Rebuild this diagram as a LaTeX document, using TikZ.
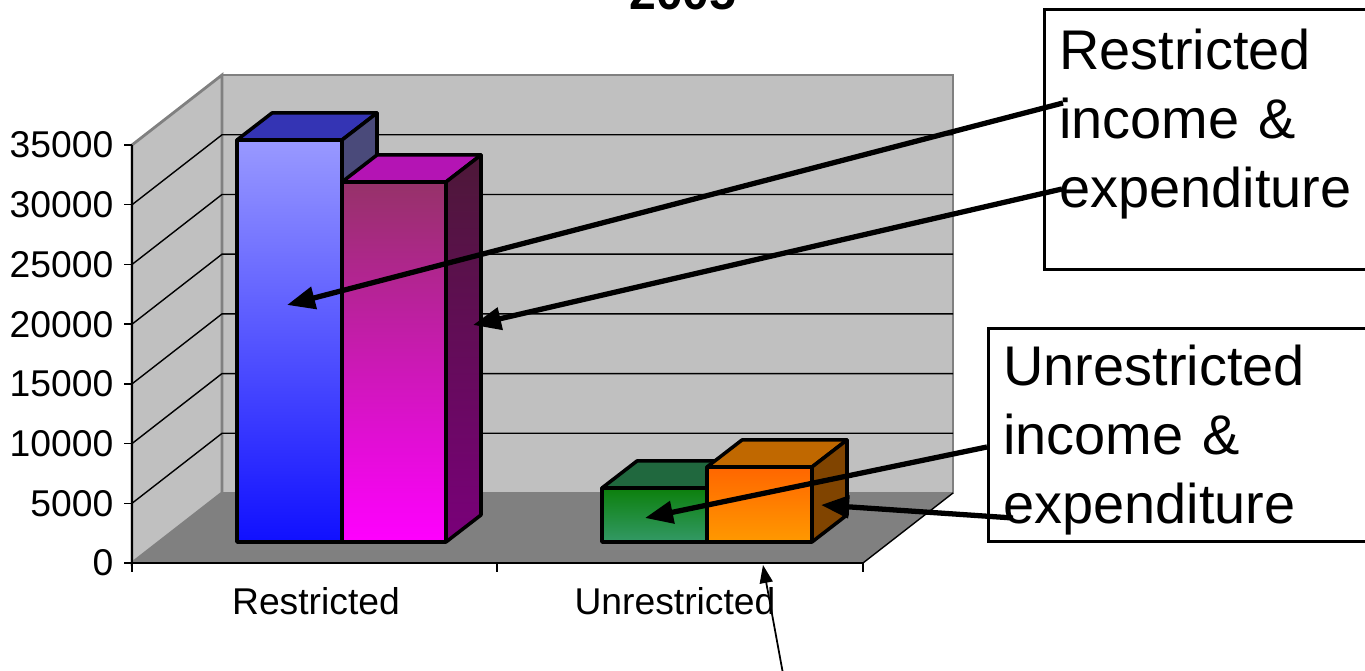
\documentclass[tikz,border=0pt]{standalone}
\usepackage{fontspec}
\setmainfont{Liberation Sans}
\usepackage{xcolor}
\usepackage{tikz}
\usetikzlibrary{arrows.meta,positioning}
\definecolor{wallgrey}{RGB}{192,192,192}
\definecolor{floorgrey}{RGB}{128,128,128}
\definecolor{bluehi}{RGB}{153,153,255}
\definecolor{bluelo}{RGB}{16,16,255}
\definecolor{bluetop}{RGB}{52,52,180}
\definecolor{blueside}{RGB}{74,74,122}
\definecolor{magentahi}{RGB}{150,50,105}
\definecolor{magentalo}{RGB}{255,0,255}
\definecolor{magentatop}{RGB}{180,20,180}
\definecolor{magentasideup}{RGB}{77,24,56}
\definecolor{magentasidelo}{RGB}{122,0,122}
\definecolor{greenhi}{RGB}{12,128,12}
\definecolor{greenlo}{RGB}{51,153,102}
\definecolor{greentop}{RGB}{32,104,62}
\definecolor{orangehi}{RGB}{255,102,0}
\definecolor{orangelo}{RGB}{255,153,0}
\definecolor{orangetop}{RGB}{192,104,0}
\definecolor{orangeside}{RGB}{128,68,0}

% one bar: left x, right x, top y, front style, top colour, side style
\newcommand{\chartbar}[6]{%
  \draw[barline, #4] (#1,#3) rectangle (#2,542);
  \filldraw[barline, fill=#5] (#1,#3) -- (#1+35,#3-27) -- (#2+35,#3-27) -- (#2,#3) -- cycle;
  \draw[barline, #6] (#2,#3) -- (#2+35,#3-27) -- (#2+35,515) -- (#2,542) -- cycle;
}

\begin{document}
\begin{tikzpicture}[x=0.01cm, y=-0.01cm,
    every node/.style={font=\fontsize{10.6}{12}\selectfont},
    wall/.style={fill=wallgrey, draw=floorgrey, line width=0.8pt},
    gridline/.style={black, line width=0.4pt},
    barline/.style={black, line width=1pt, line join=round},
    axislabel/.style={font=\fontsize{10.6}{12}\selectfont},
    labelbox/.style={rectangle, draw=black, line width=0.8pt, fill=white, align=left,
      inner xsep=0.15cm, text height=0.41cm,
      font=\fontsize{15.9}{19.6}\selectfont},
    callout/.style={-{Triangle[length=0.28cm, width=0.22cm]}, line width=1.5pt},
    note/.style={-{Triangle[length=0.18cm, width=0.13cm]}, line width=0.5pt}]
    \useasboundingbox (0,0) rectangle (1365,671);

    % title, cut off at the top
    \node[anchor=base, font=\fontsize{13.7}{16}\selectfont\bfseries] (title) at (683,10) {2005};

    % walls and floor
    \filldraw[wall] (222,75) rectangle (953,493);
    \filldraw[wall] (132,145) -- (222,75) -- (222,493) -- (132,563) -- cycle;
    \fill[floorgrey] (132,563) -- (222,493) -- (953,493) -- (863,563) -- cycle;
    \draw[gridline] (863,563) -- (953,493);
    \foreach \k in {1,...,6}
        \draw[gridline] (132,563-59.7*\k) -- (222,493-59.7*\k) -- (953,493-59.7*\k);

    % axes
    \draw[gridline] (132,145) -- (132,563) -- (863,563);
    \foreach \val [count=\k from 0] in {0,5000,10000,15000,20000,25000,30000,35000} {
        \draw[gridline] (124,563-59.7*\k) -- (132,563-59.7*\k);
        \node[axislabel, anchor=east, inner xsep=0pt] (ytick\k) at (114,563-59.7*\k) {\val};
    }
    \foreach \x in {132,497,863}
        \draw[gridline] (\x,563) -- (\x,572);
    \node[axislabel, anchor=base] (restrlabel) at (316,615) {Restricted};
    \node[axislabel, anchor=base] (unrestrlabel) at (675,615) {Unrestricted};

    % bars
    \chartbar{237}{342}{140}{top color=bluehi, bottom color=bluelo}{bluetop}{fill=blueside}
    \chartbar{342}{446}{182}{top color=magentahi, bottom color=magentalo}{magentatop}{top color=magentasideup, bottom color=magentasidelo}
    \chartbar{602}{707}{488}{top color=greenhi, bottom color=greenlo}{greentop}{fill=greentop}
    \chartbar{707}{812}{467}{top color=orangehi, bottom color=orangelo}{orangetop}{fill=orangeside}

    % label boxes
    \node[labelbox, anchor=north west, text width=3cm, text depth=1.81cm, inner ysep=0.19cm]
        (restrbox) at (1043,8) {Restricted\\income \&\\expenditure};
    \node[labelbox, anchor=north west, text width=3.55cm, text depth=1.4cm, inner ysep=0.16cm]
        (unrestrbox) at (987,327) {Unrestricted\\income \&\\expenditure};

    % arrow ends
    \coordinate (restrin) at (1063,103);
    \coordinate (restrout) at (1062,189);
    \coordinate (unrestrin) at (987,447);
    \coordinate (unrestrout) at (1013,518);
    \coordinate (bluetip) at (287,305);
    \coordinate (magentatip) at (473,325);
    \coordinate (greentip) at (645,518);
    \coordinate (orangetip) at (821,505);
    \coordinate (floortip) at (763,565);
    \coordinate (noteend) at (786,690);

    \draw[callout] (restrin) -- (bluetip);
    \draw[callout] (restrout) -- (magentatip);
    \draw[callout] (unrestrin) -- (greentip);
    \draw[callout] (unrestrout) -- (orangetip);
    \draw[note] (noteend) -- (floortip);
\end{tikzpicture}
\end{document}
